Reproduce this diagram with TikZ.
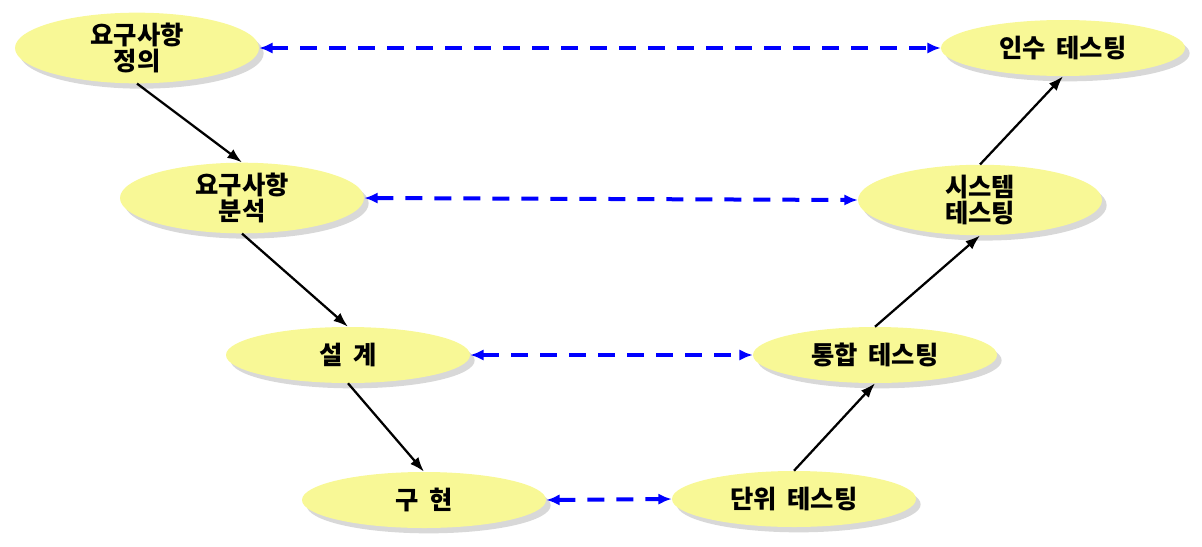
\documentclass[tikz,border=0pt]{standalone}
\usepackage{fontspec}
\setmainfont{Noto Sans CJK KR}[WordSpace=1.8]
\usetikzlibrary{shapes.geometric,shadows,arrows.meta}
\definecolor{stagefill}{HTML}{F8F896}
\definecolor{shadowgray}{HTML}{D8D8D8}
\tikzset{
  stage/.style={ellipse,fill=stagefill,minimum width=183pt,minimum height=42pt,inner sep=0pt,align=center,
    font=\bfseries\fontsize{19}{19.5}\selectfont,
    drop shadow={shadow xshift=3.5pt,shadow yshift=-4pt,fill=shadowgray,opacity=1}},
  flow/.style={-{Latex[length=11pt,width=8pt]},line width=1.7pt},
  verify/.style={{Latex[length=10pt,width=8.5pt]}-{Latex[length=10pt,width=8.5pt]},blue,line width=3pt,dash pattern=on 12.75pt off 9pt}
}
\begin{document}
\begin{tikzpicture}[x=0.75pt,y=-0.75pt]
                \useasboundingbox (0,0) rectangle (1202,546);
                \node[stage] (reqdef) at (137,48) {요구사항\\정의};
                \node[stage] (reqana) at (242,198) {요구사항\\분석};
                \node[stage] (design) at (348,355) {설 계};
                \node[stage] (impl) at (424,500) {구 현};
                \node[stage] (unit) at (794,499) {단위 테스팅};
                \node[stage] (integ) at (875,355) {통합 테스팅};
                \node[stage] (system) at (980,200) {시스템\\테스팅};
                \node[stage] (accept) at (1063,48) {인수 테스팅};
                \draw[flow] (reqdef.south) -- (reqana.north);
                \draw[flow] (reqana.south) -- (design.north);
                \draw[flow] (design.south) -- (impl.north);
                \draw[flow] (unit.north) -- (integ.south);
                \draw[flow] (integ.north) -- (system.south);
                \draw[flow] (system.north) -- (accept.south);
                \draw[verify] (reqdef.east) -- (accept.west);
                \draw[verify] (reqana.east) -- (system.west);
                \draw[verify] (design.east) -- (integ.west);
                \draw[verify] (impl.east) -- (unit.west);
            \end{tikzpicture}
\end{document}
